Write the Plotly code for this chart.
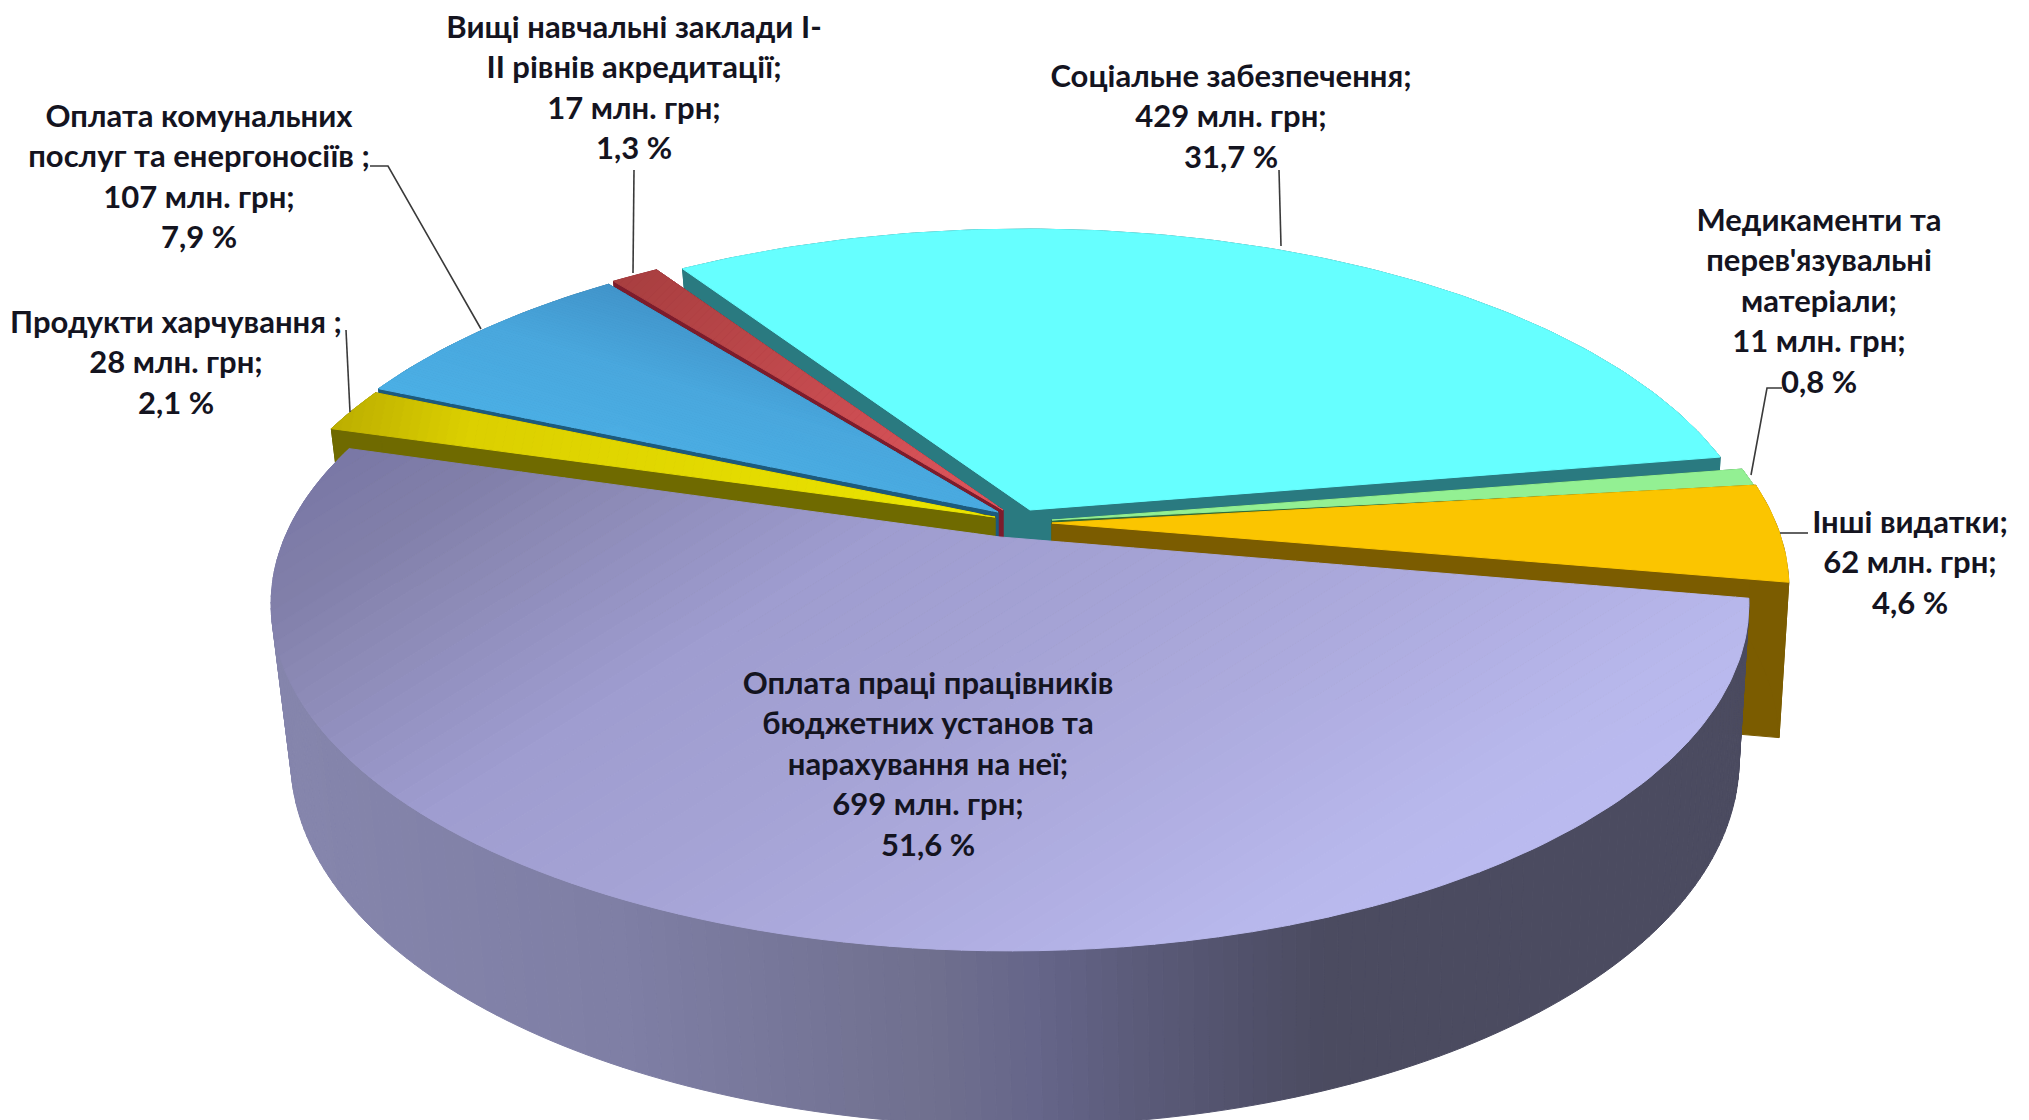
# plot.py
# Perspective 3D pie of budget spending, built from filled scatter polygons

import numpy as np
import plotly.graph_objects as go

CATEGORIES = [
    ["Оплата праці працівників", "бюджетних установ та", "нарахування на неї;"],
    ["Продукти харчування ;"],
    ["Оплата комунальних", "послуг та енергоносіїв ;"],
    ["Вищі навчальні заклади І-", "ІІ рівнів акредитації;"],
    ["Соціальне забезпечення;"],
    ["Медикаменти та", "перев'язувальні", "матеріали;"],
    ["Інші видатки;"],
]
VALUES = [699, 28, 107, 17, 429, 11, 62]
PERCENTS = ["51,6", "2,1", "7,9", "1,3", "31,7", "0,8", "4,6"]

# pie geometry, in pixels of the page
START_ANGLE = 10.2
CX, CY = 1010, 537
PERSP = 0.193
RX, RY = 725, 334

# per slice: outer offset, tip offset, top gradient, side colour
STYLES = [
    dict(off=(0, 0), tip=(-10, 0), dir=(1, 1.6),
         top=[(0, "#7a78a6"), (0.1, "#8280aa"), (0.18, "#8c8ab6"), (0.36, "#9f9dd0"), (0.53, "#a5a3d5"),
              (0.72, "#aeacdf"), (0.9, "#b8b8ec"), (1, "#bbbbf0")],
         side=[(0, "#8686ad"), (0.24, "#7f7fa5"), (0.45, "#70708f"), (0.52, "#66668a"), (0.6, "#5a5a78"),
               (0.72, "#4b4b60"), (1, "#4b4b60")]),
    dict(off=(-18, -20), tip=(-15, -20), dir=(1, 0.2),
         top=[(0, "#bcae00"), (0.2, "#dcd000"), (1, "#ece600")], side="#6f6a00"),
    dict(off=(-15, -24), tip=(-12, -25), dir=(0.3, -1),
         top=[(0, "#4cb0e6"), (0.55, "#4aa8de"), (1, "#4295cb")], side="#1d5a7c"),
    dict(off=(-10, -27), tip=(-7, -27), dir=(1, 1),
         top=[(0, "#a83f40"), (1, "#e2575e")], side="#7c1c2c"),
    dict(off=(16, -28), tip=(20, -27), dir=None, top="#66ffff", side="#2a7a80"),
    dict(off=(38, -16), tip=(42, -17), dir=None, top="#93f093", side="#2f6b3a"),
    dict(off=(40, -16), tip=(42, -14), dir=None, top="#fbc500", side="#7b5c00"),
]
DRAW_ORDER = [4, 3, 2, 1, 5, 6, 0]

# label anchor: centre x, y of the first line
LABEL_POS = [(928, 686), (176, 325), (199, 119), (634, 30), (1231, 79), (1819, 223), (1910, 525)]
LINE_STEP = 40.5

LEADERS = [
    [(370, 166), (388, 166), (481, 329)],
    [(634, 170), (633, 273)],
    [(346, 330), (350, 412)],
    [(1279, 170), (1281, 246)],
    [(1782, 388), (1767, 388), (1751, 475)],
    [(1780, 533), (1808, 533)],
]

FONT = "Lato, 'Noto Sans', sans-serif"


def project(t_deg):
    t = np.radians(t_deg)
    w = 1 - PERSP * np.sin(t)
    return CX + RX * np.cos(t) / w, CY + RY * np.sin(t) / w


def drop(x, y):
    """Point of the lower disc under a point of the upper one."""
    return CX + 5 + 0.98 * (x - CX), y + 152 + 0.055 * (y - CY)


def hex_rgb(c):
    return [int(c[i:i + 2], 16) for i in (1, 3, 5)]


def ramp(stops, f):
    pos = [s[0] for s in stops]
    rgb = [hex_rgb(s[1]) for s in stops]
    return "rgb(%d,%d,%d)" % tuple(np.interp(f, pos, [c[i] for c in rgb]) for i in range(3))


def clip(poly, d, limit, keep_above):
    """One Sutherland-Hodgman step against the line x*d0 + y*d1 = limit."""
    out = []
    for i in range(len(poly)):
        a, b = poly[i], poly[(i + 1) % len(poly)]
        ua = a[0] * d[0] + a[1] * d[1] - limit
        ub = b[0] * d[0] + b[1] * d[1] - limit
        if not keep_above:
            ua, ub = -ua, -ub
        if ua >= 0:
            out.append(a)
        if ua * ub < 0:
            k = ua / (ua - ub)
            out.append((a[0] + k * (b[0] - a[0]), a[1] + k * (b[1] - a[1])))
    return out


def add_poly(fig, pts, color):
    fig.add_trace(go.Scatter(
        x=[p[0] for p in pts] + [pts[0][0]], y=[p[1] for p in pts] + [pts[0][1]],
        mode="lines", fill="toself", fillcolor=color,
        line=dict(color=color, width=1), hoverinfo="skip", showlegend=False,
    ))


def add_top(fig, pts, style):
    if style["dir"] is None:
        add_poly(fig, pts, style["top"])
        return
    d = style["dir"]
    u = [p[0] * d[0] + p[1] * d[1] for p in pts]
    edges = np.linspace(min(u), max(u), 71)
    for i in range(70):
        part = clip(clip(pts, d, edges[i], True), d, edges[i + 1], False)
        if len(part) > 2:
            add_poly(fig, part, ramp(style["top"], (i + 0.5) / 70))


fig = go.Figure()

total = sum(VALUES)
spans = []
angle = START_ANGLE
for v in VALUES:
    spans.append((angle, angle + 360 * v / total))
    angle = spans[-1][1]

for idx in DRAW_ORDER:
    st = STYLES[idx]
    t0, t1 = spans[idx]
    angles = np.linspace(t0, t1, max(int(t1 - t0) + 2, 3))
    base = [project(t) for t in angles]
    top = [(x + st["off"][0], y + st["off"][1]) for x, y in base]
    low = [(drop(x, y)[0] + st["off"][0], drop(x, y)[1] + st["off"][1]) for x, y in base]
    tip = (CX + st["tip"][0], CY + st["tip"][1])
    tip_low = (tip[0], tip[1] + 152)

    if isinstance(st["side"], str):
        add_poly(fig, [tip, top[0], low[0], tip_low], st["side"])
        add_poly(fig, [tip, top[-1], low[-1], tip_low], st["side"])
        add_poly(fig, top + low[::-1], st["side"])
    else:
        xs = [p[0] for p in top]
        for i in range(len(top) - 1):
            f = (xs[i] - min(xs)) / (max(xs) - min(xs))
            add_poly(fig, [top[i], top[i + 1], low[i + 1], low[i]], ramp(st["side"], f))

    add_top(fig, [tip] + top, st)

for pts in LEADERS:
    fig.add_trace(go.Scatter(
        x=[p[0] for p in pts], y=[p[1] for p in pts], mode="lines",
        line=dict(color="#3a3a3a", width=1.6), hoverinfo="skip", showlegend=False,
    ))

for name, value, pct, pos in zip(CATEGORIES, VALUES, PERCENTS, LABEL_POS):
    lines = name + [f"{value} млн. грн;", f"{pct} %"]
    fig.add_trace(go.Scatter(
        x=[pos[0]] * len(lines), y=[pos[1] + i * LINE_STEP for i in range(len(lines))],
        mode="text", text=["<b>%s</b>" % s for s in lines], textposition="middle center",
        textfont=dict(family=FONT, size=31, color="#14141f"),
        hoverinfo="skip", showlegend=False, cliponaxis=False,
    ))

# the page body keeps its 8px margin, so the plot area starts at pixel 8
fig.update_layout(
    width=2021, height=1112, autosize=False,
    margin=dict(l=0, r=0, t=0, b=0),
    paper_bgcolor="white", plot_bgcolor="white",
    xaxis=dict(range=[8, 2029], visible=False, fixedrange=True),
    yaxis=dict(range=[1120, 8], visible=False, fixedrange=True),
)
fig.write_html("out.html")
